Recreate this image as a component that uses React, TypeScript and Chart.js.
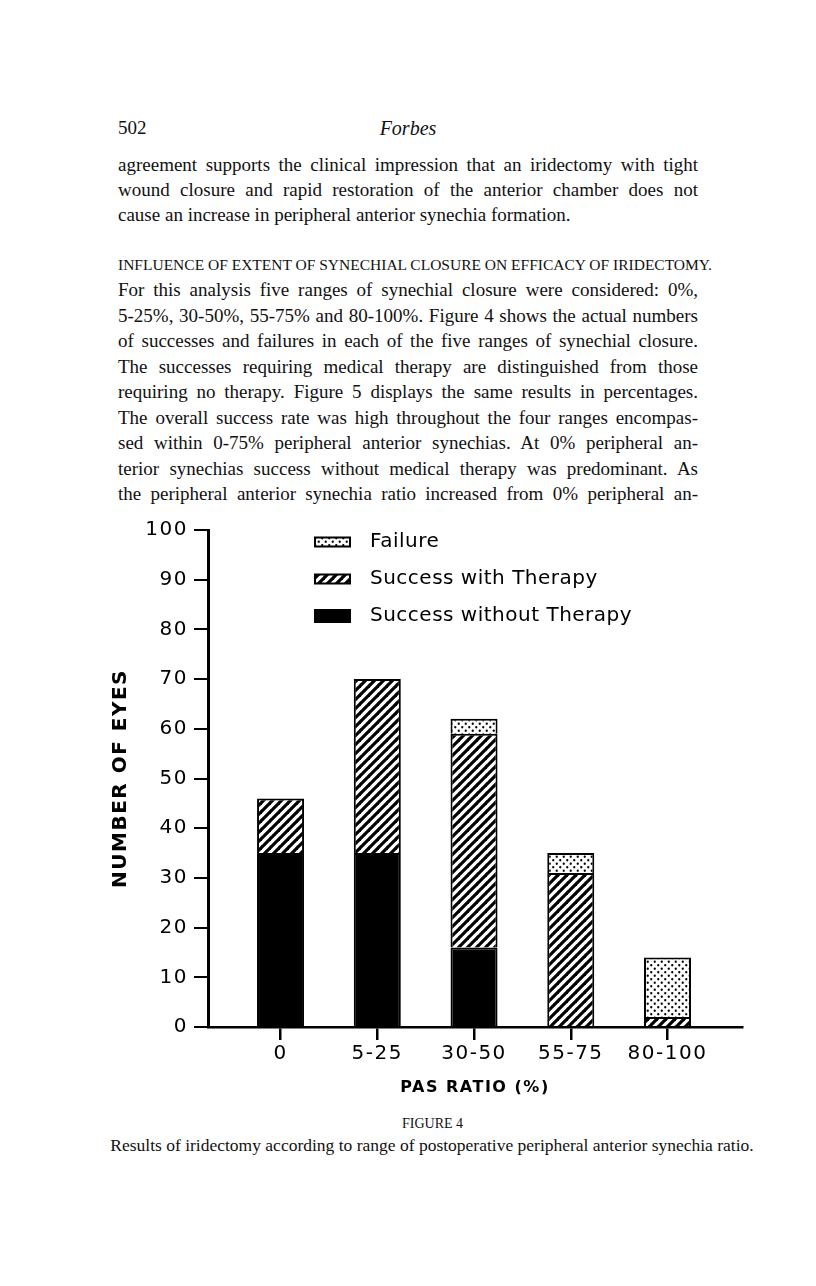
import React, { useEffect, useRef } from 'react';
import { Chart, registerables } from 'chart.js';

Chart.register(...registerables);

// ---- data ----
const categories = ['0', '5-25', '30-50', '55-75', '80-100'];
const successWithout = [35, 35, 16, 0, 0];
const successWith = [11, 35, 43, 31, 2];
const failure = [0, 0, 3, 4, 12];
const seriesLabels = ['Success without Therapy', 'Success with Therapy', 'Failure'];
const yTicks = [0, 10, 20, 30, 40, 50, 60, 70, 80, 90, 100];
const xTitle = 'PAS RATIO (%)';
const yTitle = 'NUMBER OF EYES';

const para1 = [
  'agreement supports the clinical impression that an iridectomy with tight',
  'wound closure and rapid restoration of the anterior chamber does not',
];
const para1Last = 'cause an increase in peripheral anterior synechia formation.';
const heading = 'INFLUENCE OF EXTENT OF SYNECHIAL CLOSURE ON EFFICACY OF IRIDECTOMY.';
const para2 = [
  'For this analysis five ranges of synechial closure were considered: 0%,',
  '5-25%, 30-50%, 55-75% and 80-100%. Figure 4 shows the actual numbers',
  'of successes and failures in each of the five ranges of synechial closure.',
  'The successes requiring medical therapy are distinguished from those',
  'requiring no therapy. Figure 5 displays the same results in percentages.',
  'The overall success rate was high throughout the four ranges encompas-',
  'sed within 0-75% peripheral anterior synechias. At 0% peripheral an-',
  'terior synechias success without medical therapy was predominant. As',
  'the peripheral anterior synechia ratio increased from 0% peripheral an-',
];
const figLabel = 'FIGURE 4';
const caption = 'Results of iridectomy according to range of postoperative peripheral anterior synechia ratio.';

function makeHatch(): CanvasPattern | string {
  const c = document.createElement('canvas');
  const s = 9;
  c.width = s;
  c.height = s;
  const g = c.getContext('2d');
  if (!g) return '#888';
  g.fillStyle = '#fff';
  g.fillRect(0, 0, s, s);
  g.strokeStyle = '#000';
  g.lineWidth = 3.2;
  g.lineCap = 'square';
  for (const o of [-s, 0, s]) {
    g.beginPath();
    g.moveTo(o, s);
    g.lineTo(o + s, 0);
    g.stroke();
  }
  return g.createPattern(c, 'repeat') || '#888';
}

function makeDots(): CanvasPattern | string {
  const c = document.createElement('canvas');
  const s = 7;
  c.width = s;
  c.height = s;
  const g = c.getContext('2d');
  if (!g) return '#ddd';
  g.fillStyle = '#fff';
  g.fillRect(0, 0, s, s);
  g.fillStyle = '#000';
  for (const [px, py] of [[1.75, 1.75], [5.25, 5.25]]) {
    g.beginPath();
    g.arc(px, py, 1.15, 0, Math.PI * 2);
    g.fill();
  }
  return g.createPattern(c, 'repeat') || '#ddd';
}

const toPoints = (arr: number[]) => arr.map((v, i) => ({ x: i, y: v === 0 ? null : v }));

const spacingPlugin = {
  id: 'spacing',
  beforeUpdate(chart: any) {
    chart.ctx.letterSpacing = '1.5px';
  },
  beforeDraw(chart: any) {
    chart.ctx.letterSpacing = '1.5px';
  },
};

const legendPlugin = {
  id: 'pageLegend',
  afterDraw(chart: any) {
    const { ctx, chartArea } = chart;
    const ds = chart.data.datasets;
    ctx.save();
    ctx.letterSpacing = '0.5px';
    ctx.font = '20px "DejaVu Sans"';
    ctx.textBaseline = 'middle';
    ctx.textAlign = 'left';
    [2, 1, 0].forEach((di, row) => {
      const y = chartArea.top + 12 + row * 37;
      const x = chartArea.left + 107;
      const h = di === 0 ? 12 : 9;
      ctx.fillStyle = ds[di].backgroundColor;
      ctx.fillRect(x, y - h / 2, 35, h);
      ctx.lineWidth = 2;
      ctx.strokeStyle = '#000';
      ctx.strokeRect(x, y - h / 2, 35, h);
      ctx.fillStyle = '#000';
      ctx.fillText(ds[di].label, x + 55, y);
    });
    ctx.restore();
  },
};

function FigureChart() {
  const ref = useRef<HTMLCanvasElement>(null);
  useEffect(() => {
    if (!ref.current) return;
    const hatch = makeHatch();
    const dots = makeDots();
    const tickFont = { family: '"DejaVu Sans", sans-serif', size: 20 };
    const chart = new Chart(ref.current, {
      type: 'bar',
      data: {
        datasets: [
          { label: seriesLabels[0], data: toPoints(successWithout), backgroundColor: '#000', borderColor: '#000', borderWidth: 2 },
          { label: seriesLabels[1], data: toPoints(successWith), backgroundColor: hatch as any, borderColor: '#000', borderWidth: 2 },
          { label: seriesLabels[2], data: toPoints(failure), backgroundColor: dots as any, borderColor: '#000', borderWidth: 2 },
        ] as any,
      },
      options: {
        responsive: false,
        animation: false,
        devicePixelRatio: 1,
        layout: { padding: { top: 25, right: 18, left: 0, bottom: 0 } },
        datasets: { bar: { categoryPercentage: 1, barPercentage: 0.486 } } as any,
        plugins: { legend: { display: false }, tooltip: { enabled: false } },
        scales: {
          x: {
            type: 'linear',
            min: -0.75,
            max: 4.77,
            offset: false,
            stacked: true,
            afterBuildTicks: (s: any) => {
              s.ticks = categories.map((_, i) => ({ value: i }));
            },
            afterFit: (s: any) => {
              s.height = 78;
            },
            grid: { offset: false, drawOnChartArea: false, drawTicks: true, tickLength: 13, color: '#000', lineWidth: 2.5 },
            border: { display: true, color: '#000', width: 2.5 },
            ticks: {
              color: '#000',
              font: tickFont,
              padding: 2,
              maxRotation: 0,
              autoSkip: false,
              callback: (v: any) => categories[v as number] ?? '',
            },
            title: {
              display: true,
              text: xTitle,
              color: '#000',
              font: { family: '"DejaVu Sans", sans-serif', size: 16, weight: 'bold' },
              padding: { top: 0, bottom: 8 },
            },
          },
          y: {
            min: yTicks[0],
            max: yTicks[yTicks.length - 1],
            stacked: true,
            afterFit: (s: any) => {
              s.width = 108;
            },
            afterBuildTicks: (s: any) => {
              s.ticks = yTicks.map((v) => ({ value: v }));
            },
            grid: { drawOnChartArea: false, drawTicks: true, tickLength: 14, color: '#000', lineWidth: 2 },
            border: { display: true, color: '#000', width: 3 },
            ticks: { color: '#000', font: tickFont, padding: 6 },
            title: {
              display: true,
              text: yTitle,
              color: '#000',
              font: { family: '"DejaVu Sans", sans-serif', size: 20, weight: 'bold' },
              padding: { top: 9, bottom: 0 },
            },
          },
        } as any,
      },
      plugins: [spacingPlugin, legendPlugin],
    });
    return () => chart.destroy();
  }, []);
  return (
    <canvas
      ref={ref}
      width={660}
      height={600}
      style={{ position: 'absolute', left: 92, top: 497, width: 660, height: 600 }}
    />
  );
}

const OX = 8;
const OY = 8;
const LH = 25.5;

function JLine({ text, cy, justify = true }: { text: string; cy: number; justify?: boolean }) {
  return (
    <div
      style={{
        position: 'absolute',
        left: 118 - OX,
        top: cy - LH / 2 - OY,
        width: 580,
        height: LH,
        lineHeight: LH + 'px',
        fontSize: 19,
        whiteSpace: 'nowrap',
        textAlign: justify ? 'justify' : 'left',
        textAlignLast: justify ? 'justify' : 'left',
      } as any}
    >
      {text}
    </div>
  );
}

export default function App() {
  return (
    <div
      style={{
        position: 'relative',
        width: 800,
        height: 1270,
        fontFamily: '"Liberation Serif", "Times New Roman", serif',
        color: '#111',
      }}
    >
      <div style={{ position: 'absolute', left: 118 - OX, top: 128 - 12 - OY, lineHeight: '24px', fontSize: 19 }}>502</div>
      <div
        style={{
          position: 'absolute',
          left: 308 - OX,
          width: 200,
          textAlign: 'center',
          top: 128 - 12 - OY,
          lineHeight: '24px',
          fontSize: 20,
          fontStyle: 'italic',
        }}
      >
        Forbes
      </div>
      {para1.map((t, i) => (
        <JLine key={'a' + i} text={t} cy={165 + i * 25} />
      ))}
      <JLine text={para1Last} cy={215} justify={false} />
      <div
        style={{
          position: 'absolute',
          left: 118 - OX,
          top: 265 - 10 - OY,
          lineHeight: '20px',
          fontSize: 15.5,
          whiteSpace: 'nowrap',
        }}
      >
        {heading}
      </div>
      {para2.map((t, i) => (
        <JLine key={'b' + i} text={t} cy={290 + i * 25.5} />
      ))}
      <FigureChart />
      <div
        style={{
          position: 'absolute',
          left: 110 - OX,
          width: 645,
          top: 1124 - 9 - OY,
          lineHeight: '18px',
          fontSize: 14,
          textAlign: 'center',
        }}
      >
        {figLabel}
      </div>
      <div
        style={{
          position: 'absolute',
          left: 92 - OX,
          width: 680,
          top: 1145 - 10 - OY,
          lineHeight: '20px',
          fontSize: 17.5,
          textAlign: 'center',
          whiteSpace: 'nowrap',
        }}
      >
        {caption}
      </div>
    </div>
  );
}
